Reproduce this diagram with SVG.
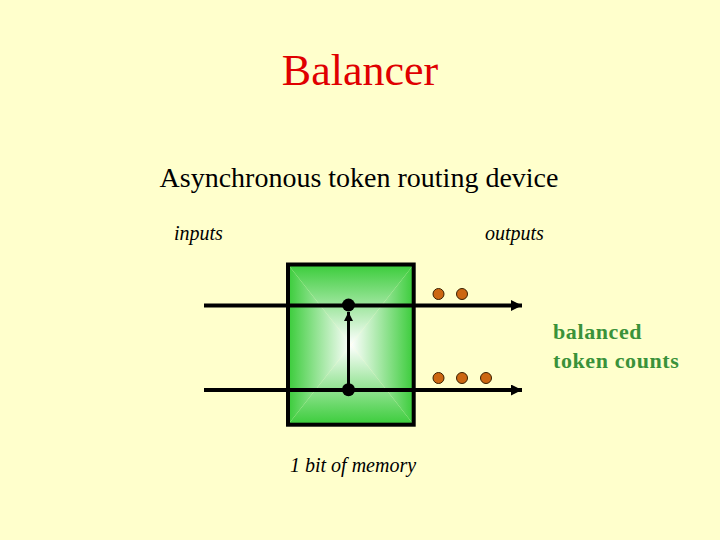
<svg xmlns="http://www.w3.org/2000/svg" width="720" height="540" viewBox="0 0 720 540">
<style>
.serif{font-family:"Liberation Serif","Times New Roman",serif}
.lab{font-size:20px;font-style:italic;fill:#000}
.wire{stroke:#000;stroke-width:4;fill:none}
.tok{fill:#cc6611;stroke:#3a2000;stroke-width:1}
.jn{fill:#000}
</style>
<defs>
<linearGradient id="gL" gradientUnits="userSpaceOnUse" x1="288" y1="0" x2="351" y2="0"><stop offset="0" stop-color="#3acc3a"/><stop offset="1" stop-color="#ffffff"/></linearGradient>
<linearGradient id="gR" gradientUnits="userSpaceOnUse" x1="413.7" y1="0" x2="351" y2="0"><stop offset="0" stop-color="#3acc3a"/><stop offset="1" stop-color="#ffffff"/></linearGradient>
<linearGradient id="gT" gradientUnits="userSpaceOnUse" x1="0" y1="264.5" x2="0" y2="344.6"><stop offset="0" stop-color="#3acc3a"/><stop offset="1" stop-color="#ffffff"/></linearGradient>
<linearGradient id="gB" gradientUnits="userSpaceOnUse" x1="0" y1="424.7" x2="0" y2="344.6"><stop offset="0" stop-color="#3acc3a"/><stop offset="1" stop-color="#ffffff"/></linearGradient>
<marker id="ah" viewBox="0 0 10 10" refX="10" refY="5" markerWidth="11" markerHeight="11" markerUnits="userSpaceOnUse" orient="auto"><path d="M0,0 L10,5 L0,10 z" fill="#000"/></marker>
<marker id="ahs" viewBox="0 0 10 10" refX="10" refY="5" markerWidth="9" markerHeight="10" markerUnits="userSpaceOnUse" orient="auto"><path d="M0,0 L10,5 L0,10 z" fill="#000"/></marker>
</defs>
<rect width="720" height="540" fill="#ffffcc"/>
<g id="title"><text class="serif" x="360" y="85" font-size="44" fill="#e00000" text-anchor="middle">Balancer</text></g>
<g id="subtitle"><text class="serif" x="359" y="187" font-size="28" fill="#000" text-anchor="middle">Asynchronous token routing device</text></g>
<g id="inputs-label"><text class="serif lab" x="174" y="240">inputs</text></g>
<g id="outputs-label"><text class="serif lab" x="485" y="240">outputs</text></g>
<g id="balancer">
<polygon points="288,264.5 351,344.6 288,424.7" fill="url(#gL)"/>
<polygon points="413.7,264.5 351,344.6 413.7,424.7" fill="url(#gR)"/>
<polygon points="288,264.5 413.7,264.5 351,344.6" fill="url(#gT)"/>
<polygon points="288,424.7 413.7,424.7 351,344.6" fill="url(#gB)"/>
<rect x="288" y="264.5" width="125.7" height="160.2" fill="none" stroke="#000" stroke-width="4"/>
</g>
<g id="connectors">
<line class="wire" x1="204" y1="305.5" x2="522" y2="305.5" marker-end="url(#ah)"/>
<line class="wire" x1="204" y1="390" x2="522" y2="390" marker-end="url(#ah)"/>
<line x1="348.5" y1="390" x2="348.5" y2="312" stroke="#000" stroke-width="3" marker-end="url(#ahs)"/>
</g>
<g id="toggle">
<circle class="jn" cx="348.5" cy="305" r="6.5"/>
<circle class="jn" cx="348.5" cy="389.7" r="6.5"/>
</g>
<g id="tokens-top">
<circle class="tok" cx="438.5" cy="294" r="5.5"/>
<circle class="tok" cx="462" cy="294" r="5.5"/>
</g>
<g id="tokens-bottom">
<circle class="tok" cx="438.5" cy="378" r="5.5"/>
<circle class="tok" cx="462" cy="378" r="5.5"/>
<circle class="tok" cx="486" cy="378" r="5.5"/>
</g>
<g id="balanced-label">
<text class="serif" font-size="22" font-weight="bold" fill="#3a923a" letter-spacing="0.6"><tspan x="553" y="339">balanced</tspan><tspan x="553" y="368">token counts</tspan></text>
</g>
<g id="memory-label"><text class="serif lab" x="290" y="472">1 bit of memory</text></g>
</svg>
